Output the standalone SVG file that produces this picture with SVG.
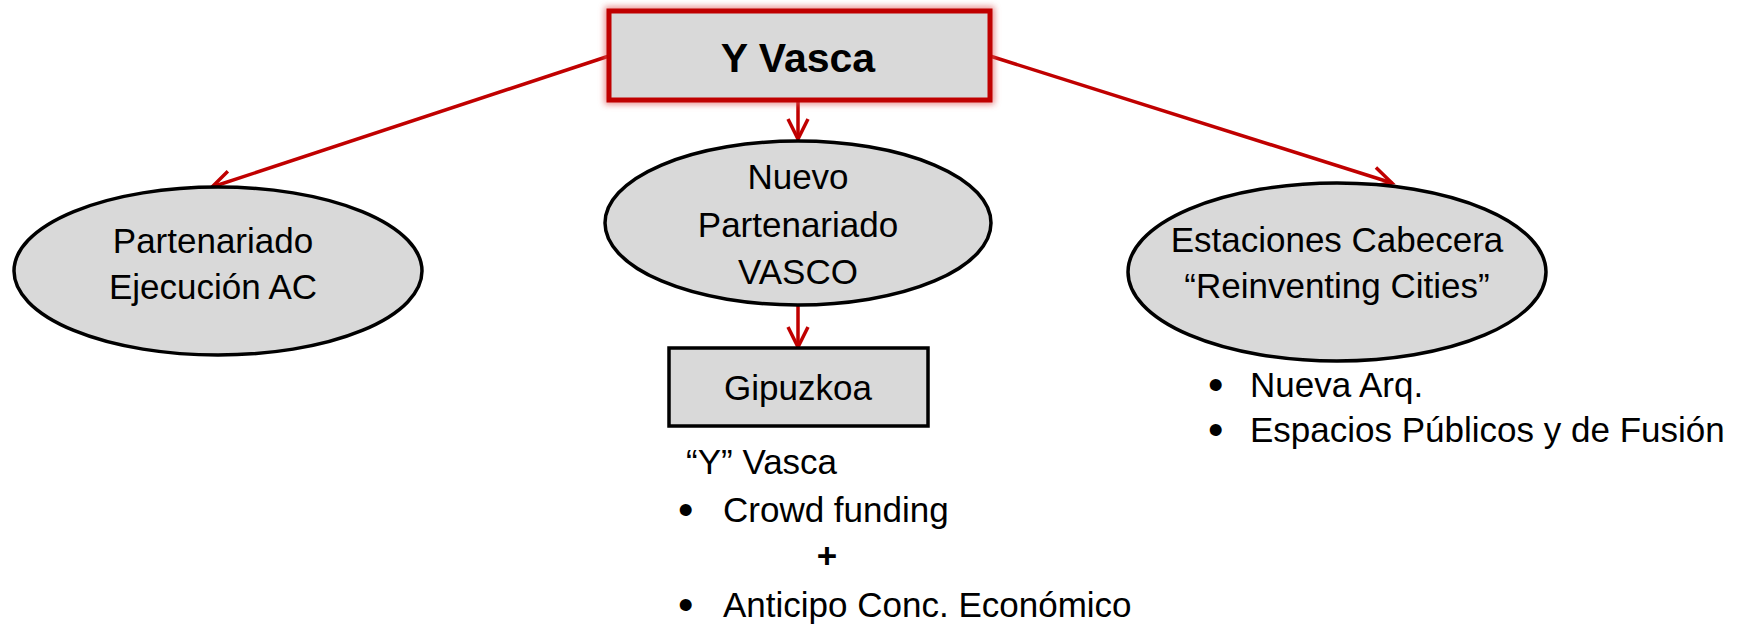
<svg xmlns="http://www.w3.org/2000/svg" width="1744" height="628" viewBox="0 0 1744 628">
<style>
.t{font-family:"Liberation Sans",Arial,sans-serif;font-size:35px;fill:#000}
.c{text-anchor:middle}
.b{font-size:44px}
.h{font-size:41px;font-weight:bold}
.ell{fill:#D9D9D9;stroke:#000;stroke-width:3.5}
.con{stroke:#C00000;stroke-width:3.5;fill:none}
</style>
<defs>
<marker id="arr" markerUnits="userSpaceOnUse" markerWidth="30" markerHeight="30" refX="22" refY="11" orient="auto" viewBox="0 0 30 22">
<path d="M2,1 L22,11 L2,21" fill="none" stroke="#C00000" stroke-width="3.5"/>
</marker>
<filter id="glow" x="-10%" y="-20%" width="120%" height="140%">
<feGaussianBlur stdDeviation="3"/>
</filter>
</defs>
<g id="connectors">
<line class="con" x1="609" y1="56" x2="212" y2="187" marker-end="url(#arr)"/>
<line class="con" x1="990" y1="56" x2="1392" y2="183" marker-end="url(#arr)"/>
<line class="con" x1="798" y1="102" x2="798" y2="139" marker-end="url(#arr)"/>
<line class="con" x1="798" y1="306" x2="798" y2="347" marker-end="url(#arr)"/>
</g>
<g id="yvasca">
<rect x="609" y="11" width="381" height="89" fill="none" stroke="#E06060" stroke-width="9" filter="url(#glow)" opacity="0.7"/>
<rect x="609" y="11" width="381" height="89" fill="#D9D9D9" stroke="#C00000" stroke-width="5"/>
<text class="t c h" x="798" y="72">Y Vasca</text>
</g>
<g id="partenariado-ejecucion">
<ellipse class="ell" cx="218" cy="271" rx="204" ry="84"/>
<text class="t c" x="213" y="253">Partenariado</text>
<text class="t c" x="213" y="299">Ejecución AC</text>
</g>
<g id="nuevo-partenariado">
<ellipse class="ell" cx="798" cy="223" rx="193" ry="82"/>
<text class="t c" x="798" y="189">Nuevo</text>
<text class="t c" x="798" y="237">Partenariado</text>
<text class="t c" x="798" y="284">VASCO</text>
</g>
<g id="estaciones">
<ellipse class="ell" cx="1337" cy="272" rx="209" ry="89"/>
<text class="t c" x="1337" y="252">Estaciones Cabecera</text>
<text class="t c" x="1337" y="298">“Reinventing Cities”</text>
</g>
<g id="gipuzkoa">
<rect x="669" y="348" width="259" height="78" fill="#D9D9D9" stroke="#000" stroke-width="3.5"/>
<text class="t c" x="798" y="400">Gipuzkoa</text>
</g>
<g id="gipuzkoa-notes">
<text class="t" x="686" y="474">“Y” Vasca</text>
<text class="t b" x="678" y="525">•</text>
<text class="t" x="723" y="522">Crowd funding</text>
<text class="t c" x="827" y="568" style="font-weight:bold">+</text>
<text class="t b" x="678" y="620">•</text>
<text class="t" x="723" y="617">Anticipo Conc. Económico</text>
</g>
<g id="estaciones-notes">
<text class="t b" x="1208" y="400">•</text>
<text class="t" x="1250" y="397">Nueva Arq.</text>
<text class="t b" x="1208" y="445">•</text>
<text class="t" x="1250" y="442">Espacios Públicos y de Fusión</text>
</g>
</svg>
